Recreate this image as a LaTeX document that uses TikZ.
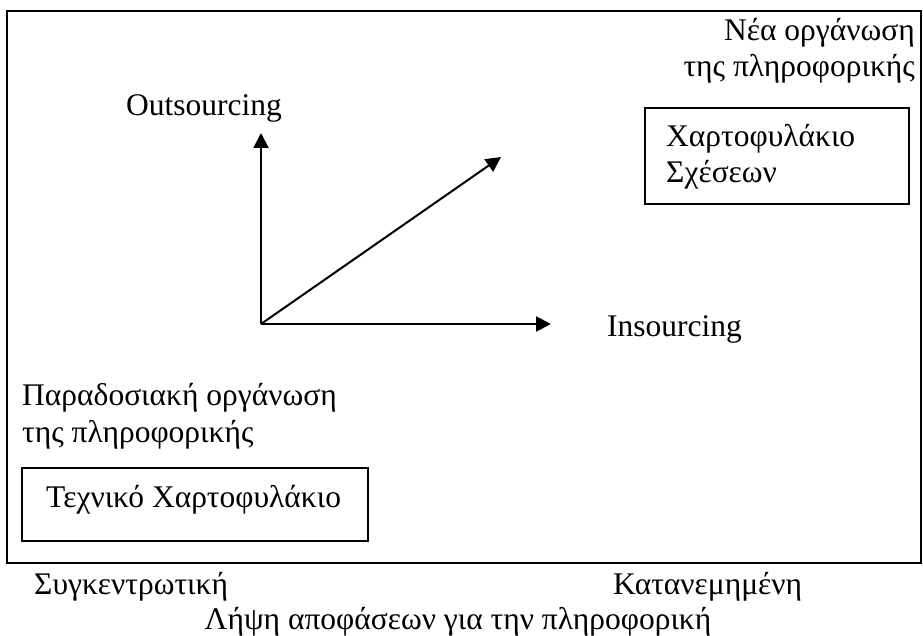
\documentclass[tikz,border=0pt]{standalone}
\usepackage{fontspec}
\setmainfont{Liberation Serif}
\usetikzlibrary{arrows.meta}
\begin{document}
\begin{tikzpicture}[x=1pt,y=-1pt,
  lbl/.style={inner sep=0pt,font=\fontsize{31.5}{36.2}\selectfont},
  ax/.style={line width=2pt,-{Triangle[length=15pt,width=15pt]}},
  frame/.style={draw,line width=2.4pt},
  tbox/.style={draw,line width=1.5pt}]
\useasboundingbox (0,0) rectangle (923,636);
\draw[frame] (7,11) rectangle (921,563);
% axes
\coordinate (O) at (261,324);
\coordinate (Vt) at (261,133);
\coordinate (Ht) at (551,324);
\coordinate (Dt) at (501,157);
\draw[ax] (O) -- (Vt);
\draw[ax] (O) -- (Ht);
\draw[ax] (O) -- (Dt);
\node[lbl,anchor=base west] (out) at (126,116) {Outsourcing};
\node[lbl,anchor=base west] (ins) at (607,336) {Insourcing};
% top right (base anchor = baseline of last line)
\node[lbl,anchor=base east,align=right] (nea) at (915,77) {Νέα οργάνωση\\της πληροφορικής};
\draw[tbox] (645,108) rectangle (909,204);
\node[lbl,anchor=base west,align=left] (xs) at (666,183) {Χαρτοφυλάκιο\\Σχέσεων};
% bottom left
\node[lbl,anchor=base west,align=left] (par) at (22,442) {Παραδοσιακή οργάνωση\\της πληροφορικής};
\draw[tbox] (22,468) rectangle (368,541);
\node[lbl,anchor=base west] (tx) at (46,507) {Τεχνικό Χαρτοφυλάκιο};
% bottom
\node[lbl,anchor=base west] (syg) at (34,594) {Συγκεντρωτική};
\node[lbl,anchor=base west] (kat) at (613,594) {Κατανεμημένη};
\node[lbl,anchor=base] (lip) at (458,629) {Λήψη αποφάσεων για την πληροφορική};
\end{tikzpicture}
\end{document}
